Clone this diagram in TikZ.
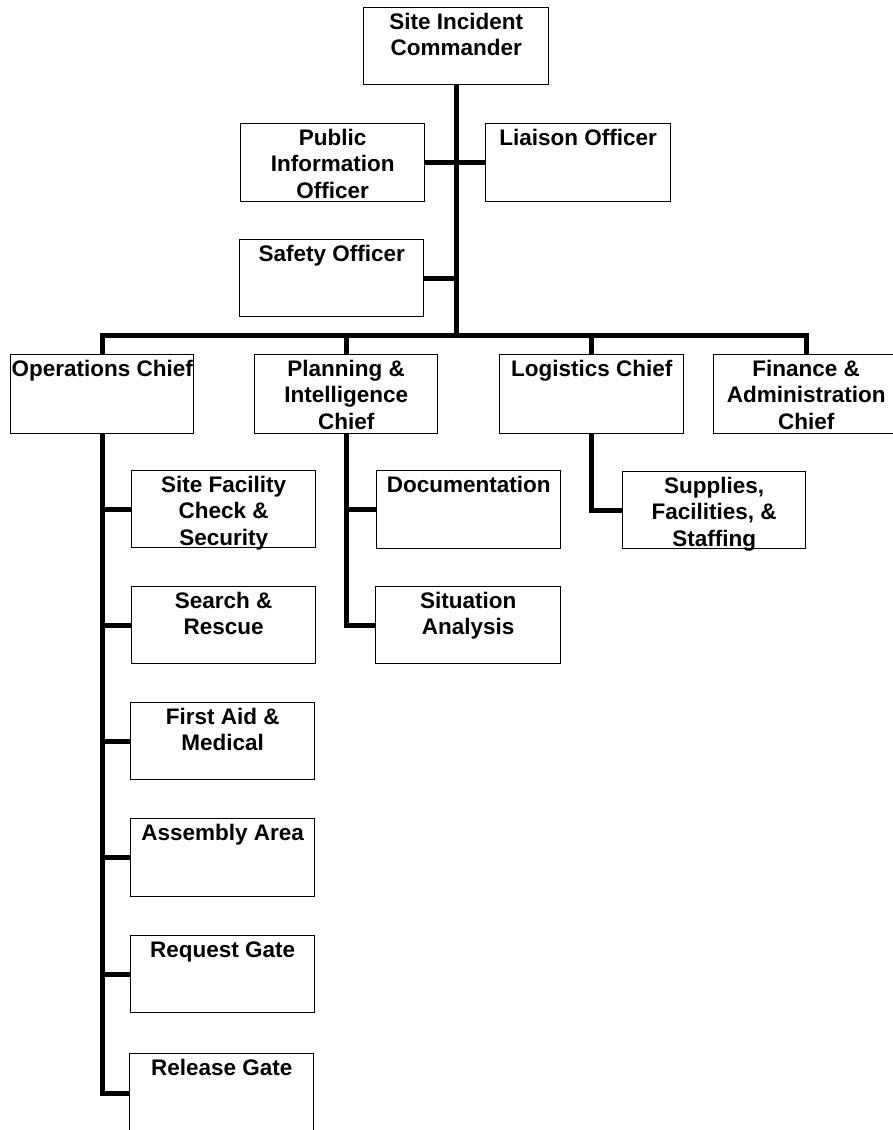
\documentclass[tikz,border=0pt]{standalone}
\usepackage{fontspec}
\setmainfont{Liberation Sans}
\usetikzlibrary{calc}
\newcommand{\orgbox}[6]{%
  \node[orgnode] (#1) at (#2,#3) {\parbox[t][#5pt][t]{#4pt}{\centering\rule{0pt}{21.5pt}#6}};}
\tikzset{
  orgnode/.style={draw=black, line width=1.4pt, inner sep=0pt, anchor=north west,
    font=\bfseries\fontsize{22.5}{26.6}\selectfont},
  conn/.style={draw=black, line width=5pt, line join=miter, line cap=butt}
}
\begin{document}
\begin{tikzpicture}[x=1pt,y=-1pt]
\useasboundingbox (0,0) rectangle (892,1130);
\fill[white] (0,0) rectangle (892,1130);
% boxes
\orgbox{sic}{363}{7}{185}{77}{Site Incident\\Commander}
\orgbox{pio}{240}{123}{184}{78}{Public\\Information\\Officer}
\orgbox{lia}{485}{123}{185}{78}{Liaison Officer}
\orgbox{saf}{239}{239}{184}{77}{Safety Officer}
\orgbox{ops}{10}{354}{183}{79}{Operations Chief}
\orgbox{pln}{254}{354}{183}{79}{Planning \&\\Intelligence\\Chief}
\orgbox{log}{499}{354}{184}{79}{Logistics Chief}
\orgbox{fin}{713}{354}{185}{79}{Finance \&\\Administration\\Chief}
\orgbox{sfc}{131}{470}{184}{77}{Site Facility\\Check \&\\Security}
\orgbox{snr}{131}{586}{184}{77}{Search \&\\Rescue}
\orgbox{fam}{130}{702}{184}{77}{First Aid \&\\Medical}
\orgbox{asm}{130}{818}{184}{78}{Assembly Area}
\orgbox{req}{130}{935}{184}{77}{Request Gate}
\orgbox{rel}{129}{1053}{184}{80}{Release Gate}
\orgbox{doc}{376}{470}{184}{78}{Documentation}
\orgbox{sit}{375}{586}{185}{77}{Situation\\Analysis}
\orgbox{sup}{622}{471}{183}{77}{Supplies,\\Facilities, \&\\Staffing}
% bus level
\coordinate (bus) at (0,335);
% connectors
\draw[conn] (sic.south) -- (sic.south |- bus);
\draw[conn] (pio.east) -- (lia.west);
\draw[conn] (saf.east) -- (saf.east -| sic.south);
\draw[conn] (ops.north) -- (ops.north |- bus) -| (fin.north);
\draw[conn] (pln.north) -- (pln.north |- bus);
\draw[conn] (log.north) -- (log.north |- bus);
% operations
\draw[conn] (ops.south) |- (rel.west);
\draw[conn] (sfc.west) -- (sfc.west -| ops.south);
\draw[conn] (snr.west) -- (snr.west -| ops.south);
\draw[conn] (fam.west) -- (fam.west -| ops.south);
\draw[conn] (asm.west) -- (asm.west -| ops.south);
\draw[conn] (req.west) -- (req.west -| ops.south);
% planning
\draw[conn] (pln.south) |- (sit.west);
\draw[conn] (doc.west) -- (doc.west -| pln.south);
% logistics
\draw[conn] (log.south) |- (sup.west);
\end{tikzpicture}
\end{document}
